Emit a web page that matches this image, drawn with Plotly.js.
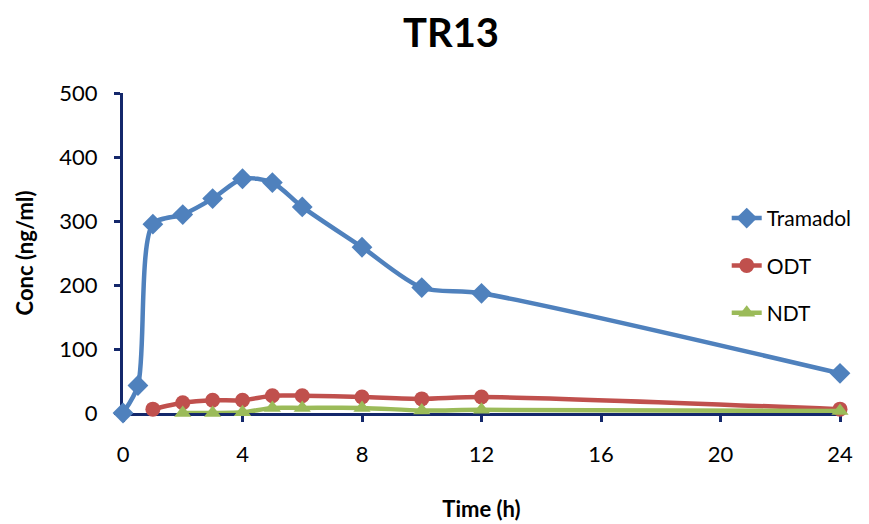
<!DOCTYPE html>
<html>
<head>
<meta charset="utf-8">
<script src="https://cdn.plot.ly/plotly-3.0.1.min.js"></script>
<style>html,body{margin:0;padding:0;background:#fff;}#chart{width:869px;height:524px;}</style>
</head>
<body>
<div id="chart"></div>
<script>
const timeTramadol = [0, 0.5, 1, 2, 3, 4, 5, 6, 8, 10, 12, 24];
const tramadol = [0, 43, 295, 310, 335, 366, 360, 322, 259, 196, 187, 62];
const timeMetab = [1, 2, 3, 4, 5, 6, 8, 10, 12, 24];
const odt = [6, 16, 20, 20, 27, 27, 25, 22, 25, 6];
const timeNdt = [2, 3, 4, 5, 6, 8, 10, 12, 24];
const ndt = [0, 0, 1, 8, 8, 8, 4, 5, 3];
const xTicks = [0, 4, 8, 12, 16, 20, 24];
const yTicks = [0, 100, 200, 300, 400, 500];

const font = "Lato, 'Open Sans', Arial, sans-serif";
const axisColor = '#14286b';

const traces = [
  {x: timeTramadol, y: tramadol, name: 'Tramadol', legendgroup: 'a', mode: 'lines+markers', cliponaxis: false,
   line: {color: '#4F81BD', width: 4.5, shape: 'spline', smoothing: 0.8},
   marker: {symbol: 'diamond', size: 16, color: '#4F81BD'}},
  {x: timeMetab, y: odt, name: 'ODT', legendgroup: 'b', mode: 'lines+markers', cliponaxis: false,
   line: {color: '#C0504D', width: 4.5, shape: 'spline', smoothing: 0.8},
   marker: {symbol: 'circle', size: 15, color: '#C0504D'}},
  {x: timeNdt, y: ndt, name: 'NDT', legendgroup: 'c', mode: 'lines+markers', cliponaxis: false,
   line: {color: '#9BBB59', width: 4.5, shape: 'spline', smoothing: 0.8},
   marker: {symbol: 'triangle-up', size: 15, color: '#9BBB59'}}
];

const layout = {
  width: 869, height: 524,
  margin: {l: 123, r: 25, t: 93, b: 111},
  paper_bgcolor: '#fff', plot_bgcolor: '#fff',
  title: {text: '<b>TR13</b>', font: {family: font, size: 40, color: '#000'}, x: 451/869, xref: 'container', xanchor: 'center', y: 1 - 33/524, yref: 'container', yanchor: 'middle'},
  showlegend: true,
  legend: {x: 0.842, xanchor: 'left', y: 0.672, yanchor: 'top', font: {family: font, size: 21, color: '#000'},
           tracegroupgap: 17, bgcolor: 'rgba(0,0,0,0)'},
  xaxis: {range: [0, 24], tickvals: xTicks, showgrid: false, zeroline: false,
          showline: true, linecolor: axisColor, linewidth: 3, layer: 'below traces',
          ticks: 'outside', ticklen: 6, tickwidth: 3, tickcolor: axisColor,
          ticklabelstandoff: 14,
          tickfont: {family: font, size: 22, color: '#000'},
          title: {text: '<b>Time (h)</b>', font: {family: font, size: 22, color: '#000'}, standoff: 36}},
  yaxis: {range: [0, 500], tickvals: yTicks, showgrid: false, zeroline: false,
          showline: true, linecolor: axisColor, linewidth: 3, layer: 'below traces',
          ticks: 'outside', ticklen: 6, tickwidth: 3, tickcolor: axisColor,
          ticklabelstandoff: 12,
          tickfont: {family: font, size: 22, color: '#000'},
          title: {text: '<b>Conc (ng/ml)</b>', font: {family: font, size: 22, color: '#000'}, standoff: 20}},
};

Plotly.newPlot('chart', traces, layout, {displayModeBar: false, responsive: false});
</script>
</body>
</html>
